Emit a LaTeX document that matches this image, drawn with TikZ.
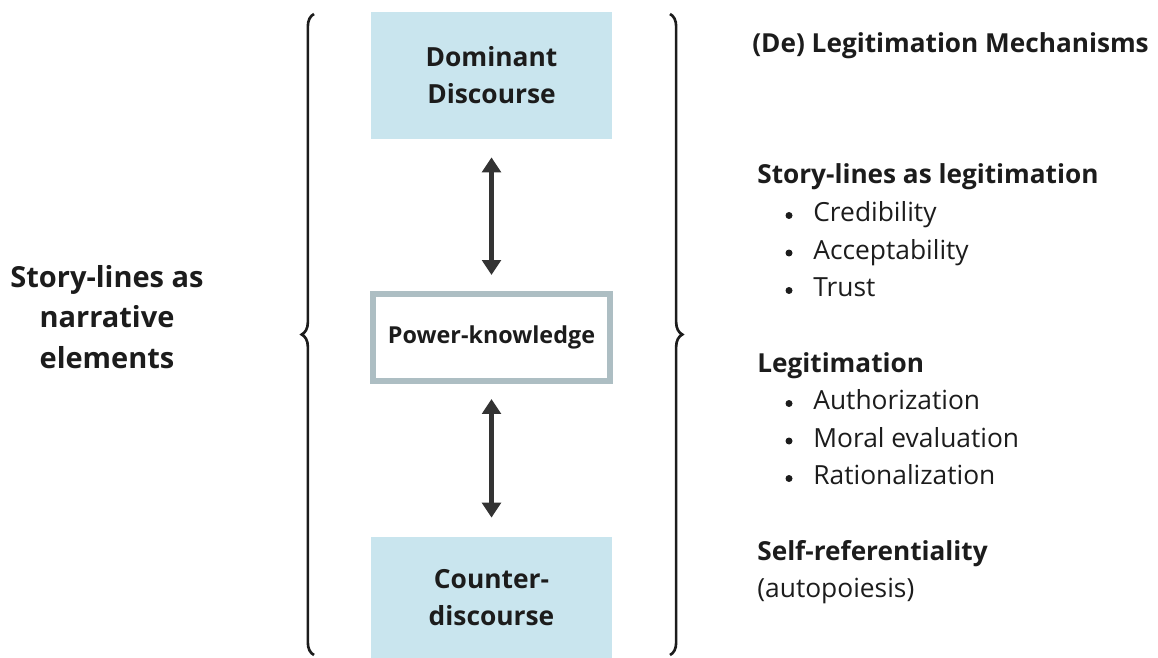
\documentclass[tikz,border=0pt]{standalone}
\usepackage{fontspec}
\setmainfont{Open Sans}
\usetikzlibrary{decorations.pathreplacing,arrows.meta}
\definecolor{ink}{HTML}{1C1C1C}
\definecolor{boxblue}{HTML}{C9E5EE}
\definecolor{framegray}{HTML}{ADBEC3}
\definecolor{arrowgray}{HTML}{333333}
\tikzset{
  discourse/.style={fill=boxblue, minimum width=4.82cm, inner sep=0pt, align=center,
    font=\bfseries\fontsize{15}{21}\selectfont, text=ink},
  heading/.style={anchor=base west, inner sep=0pt, font=\bfseries\fontsize{14.9}{21}\selectfont, text=ink},
  entry/.style={anchor=base west, inner sep=0pt, font=\fontsize{15}{21}\selectfont, text=ink},
  dot/.style={circle, fill=ink, inner sep=0pt, minimum size=0.14cm},
  twoway/.style={{Triangle[length=8.5pt,width=10.5pt]}-{Triangle[length=8.5pt,width=10.5pt]},
    line width=2.3pt, arrowgray},
  bracket/.style={decorate, decoration={brace, amplitude=7pt}, line width=1.5pt, ink}
}
\begin{document}
\begin{tikzpicture}[x=0.02cm,y=-0.02cm]
		\useasboundingbox (0,0) rectangle (1158,658);
		% DISCOURSE BOXES
		\node[discourse, minimum height=2.54cm] (dom) at (491.5,75.5) {Dominant\\Discourse};
		\node[draw=framegray, line width=3.4pt, minimum width=4.74cm, minimum height=1.74cm,
			inner sep=0pt, font=\bfseries\fontsize{13.3}{16}\selectfont, text=ink] (pk) at (491.5,337.5) {Power-knowledge};
		\node[discourse, minimum height=2.44cm] (ctr) at (491.5,598) {Counter-\\discourse};
		\draw[twoway, shorten <=0.36cm, shorten >=0.32cm] (dom.south) -- (pk.north);
		\draw[twoway, shorten <=0.3cm, shorten >=0.38cm] (pk.south) -- (ctr.north);
		% BRACES
		\coordinate (lb) at (314,655);
		\coordinate (lt) at (314,14);
		\coordinate (rt) at (670,14);
		\coordinate (rb) at (670,655);
		\draw[bracket] (lb) -- (lt);
		\draw[bracket] (rt) -- (rb);
		% LEFT LABEL
		\node[align=center, inner sep=0pt, font=\bfseries\fontsize{16.5}{23.2}\selectfont, text=ink] (narr) at (107,317)
			{Story-lines as\\narrative\\elements};
		% MECHANISMS
		\node[heading] (mech) at (752,53) {(De) Legitimation Mechanisms};
		\node[heading] (sl) at (757,184) {Story-lines as legitimation};
		\foreach \txt [count=\i, evaluate=\i as \y using 184+37.5*\i] in {Credibility,Acceptability,Trust} {
			\node[dot] (sl-b\i) at (789,\y-6) {};
			\node[entry] (sl-\i) at (813,\y) {\txt};
		}
		\node[heading] (leg) at (757,372) {Legitimation};
		\foreach \txt [count=\i, evaluate=\i as \y using 372+37.5*\i] in {Authorization,Moral evaluation,Rationalization} {
			\node[dot] (leg-b\i) at (789,\y-6) {};
			\node[entry] (leg-\i) at (813,\y) {\txt};
		}
		\node[heading] (self) at (757,560) {Self-referentiality};
		\node[entry] (auto) at (757,597) {(autopoiesis)};
\end{tikzpicture}
\end{document}
